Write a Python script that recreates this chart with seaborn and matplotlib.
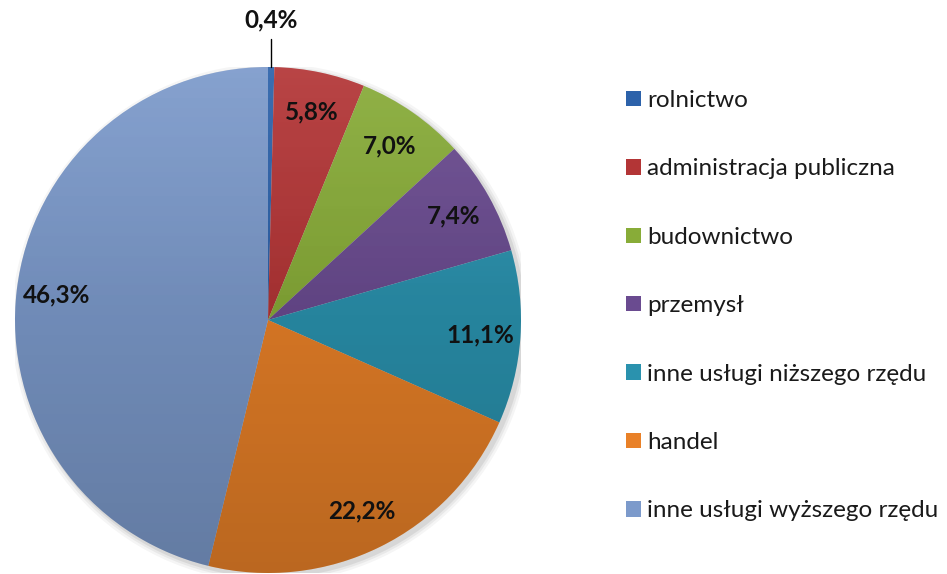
import numpy as np
import matplotlib
matplotlib.use("Agg")
import matplotlib.pyplot as plt
import seaborn as sns
from matplotlib.patches import Circle

categories = ["rolnictwo", "administracja publiczna", "budownictwo", "przemysł",
              "inne usługi niższego rzędu", "handel", "inne usługi wyższego rzędu"]
values = [0.4, 5.8, 7.0, 7.4, 11.1, 22.2, 46.3]
value_labels = ["0,4%", "5,8%", "7,0%", "7,4%", "11,1%", "22,2%", "46,3%"]
colors_hex = ["#2C62AA", "#B33536", "#88AC38", "#6A4B90", "#2A92AE", "#E98128", "#7C9ACB"]

sns.set_theme(style="white")
plt.rcParams['font.family'] = ['Lato', 'DejaVu Sans']
palette = sns.color_palette(colors_hex)

W, H = 947, 574
fig = plt.figure(figsize=(W / 100, H / 100), dpi=100)
cx, cy, r = 268, 320, 253
ax = fig.add_axes([(cx - r) / W, (H - cy - r) / H, 2 * r / W, 2 * r / H])
ax.axis('off')

# soft shadow
for k, a in [(1.025, 0.04), (1.015, 0.05), (1.006, 0.07)]:
    ax.add_patch(Circle((0.012, -0.012), k, color='black', alpha=a, lw=0, zorder=0))

wedges, _ = ax.pie(values, colors=palette, startangle=90, counterclock=False,
                   radius=1.0, wedgeprops=dict(linewidth=0))

# subtle shading gradient (lighter top, darker bottom)
g = np.linspace(0, 1, 256)
shade = np.zeros((256, 1, 4))
shade[:, 0, 3] = g * 0.2
im = ax.imshow(shade, extent=[-1, 1, -1, 1], origin='upper', aspect='auto', zorder=3)
im.set_clip_path(Circle((0, 0), 1.0, transform=ax.transData))
hl = np.ones((256, 1, 4))
hl[:, 0, 3] = np.clip(0.08 - g * 0.16, 0, 1)
im2 = ax.imshow(hl, extent=[-1, 1, -1, 1], origin='upper', aspect='auto', zorder=3)
im2.set_clip_path(Circle((0, 0), 1.0, transform=ax.transData))
ax.set_xlim(-1, 1)
ax.set_ylim(-1, 1)
ax.set_aspect('equal')

for i, (w, lab) in enumerate(zip(wedges, value_labels)):
    ang = np.deg2rad((w.theta1 + w.theta2) / 2)
    if i == 0:
        x = np.cos(ang)
        ax.plot([x, x], [1.0, 1.11], color='black', lw=1.0, zorder=5, clip_on=False)
        ax.text(x, 1.185, lab, ha='center', va='center', fontsize=17.5, fontweight='bold',
                color='#111111', zorder=6, clip_on=False)
    else:
        d = 0.84
        ax.text(d * np.cos(ang), d * np.sin(ang), lab, ha='center', va='center',
                fontsize=17.5, fontweight='bold', color='#111111', zorder=6)

leg = fig.legend(wedges, categories, loc='upper left',
                 bbox_to_anchor=(626 / W, 1 - 90 / H), frameon=False,
                 fontsize=17.5, handlelength=0.6, handleheight=0.6, handletextpad=0.28,
                 labelspacing=1.95, borderaxespad=0, borderpad=0)
for t in leg.get_texts():
    t.set_color('#1a1a1a')

fig.savefig("out.png", dpi=100, facecolor='white')
